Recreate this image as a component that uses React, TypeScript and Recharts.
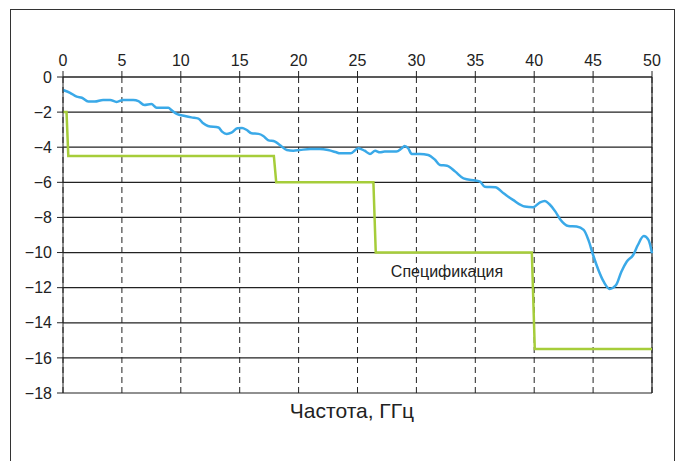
import { LineChart, Line, XAxis, YAxis, CartesianGrid, ReferenceLine, ReferenceDot } from "recharts";

// measured response, dB vs GHz
const freq = [0, 0.6, 1.16, 1.6, 2.15, 2.7, 3.4, 4.0, 4.55, 5.1, 5.97, 6.4, 6.9, 7.5, 7.95, 8.95, 9.2, 9.65, 10.35, 10.9, 11.5, 11.9, 12.3, 13.2, 13.5, 13.9, 14.3, 14.8, 15.2, 15.6, 16.0, 16.6, 17.0, 17.4, 18.0, 18.4, 19.0, 19.55, 20.1, 21.0, 21.8, 22.5, 23.2, 23.5, 24.4, 25.07, 25.6, 26.06, 26.5, 26.9, 27.3, 28.3, 28.75, 29.0, 29.3, 29.6, 30.3, 31.0, 31.6, 32.0, 32.6, 33.3, 34.0, 35.0, 35.4, 35.8, 36.7, 37.4, 38.2, 39.2, 39.9, 40.5, 40.9, 41.3, 41.8, 42.2, 42.9, 43.6, 44.2, 44.6, 45.0, 45.45, 45.9, 46.4, 46.95, 47.4, 47.85, 48.4, 48.8, 49.3, 49.7, 50];
const measured = [-0.74, -0.9, -1.12, -1.18, -1.4, -1.4, -1.31, -1.31, -1.42, -1.31, -1.31, -1.37, -1.6, -1.54, -1.75, -1.75, -1.88, -2.1, -2.22, -2.3, -2.37, -2.64, -2.79, -2.88, -3.11, -3.24, -3.17, -2.92, -2.9, -3.02, -3.21, -3.24, -3.36, -3.59, -3.68, -3.87, -4.16, -4.2, -4.16, -4.1, -4.1, -4.16, -4.29, -4.35, -4.35, -4.06, -4.2, -4.38, -4.2, -4.29, -4.25, -4.25, -4.06, -3.93, -4.06, -4.38, -4.38, -4.44, -4.73, -5.01, -5.05, -5.39, -5.77, -5.9, -5.96, -6.25, -6.28, -6.62, -7.0, -7.38, -7.42, -7.14, -7.06, -7.25, -7.67, -8.1, -8.49, -8.52, -8.71, -9.28, -10.14, -10.99, -11.66, -12.07, -11.85, -11.09, -10.52, -10.14, -9.57, -9.06, -9.28, -10.04];

// specification mask
const specFreq = [0, 0.3, 0.45, 17.9, 18.1, 26.35, 26.55, 39.8, 40.05, 50];
const specLevel = [-2, -2, -4.5, -4.5, -6, -6, -10, -10, -15.5, -15.5];

const xTicks = [0, 5, 10, 15, 20, 25, 30, 35, 40, 45, 50];
const yTicks = [0, -2, -4, -6, -8, -10, -12, -14, -16, -18];

const curve = freq.map((x, i) => ({ x, y: measured[i] }));
const spec = specFreq.map((x, i) => ({ x, y: specLevel[i] }));

const font = "Liberation Sans, Arial, sans-serif";

export default function App() {
  return (
    <div style={{ position: "absolute", left: 0, top: 0, width: 678, height: 461, background: "#fff", overflow: "hidden" }}>
      <div style={{ position: "absolute", left: 10, top: 9, width: 663, height: 470, border: "1px solid #333" }} />
      <div style={{ position: "absolute", left: 0, top: 0 }}>
        <LineChart width={678} height={461} margin={{ top: 47, right: 26, left: 23, bottom: 68 }}>
          <CartesianGrid horizontal={true} vertical={false} stroke="#222" strokeWidth={1.2} />
          <CartesianGrid horizontal={false} vertical={true} stroke="#222" strokeDasharray="6 4" />
          <XAxis
            type="number"
            dataKey="x"
            orientation="top"
            domain={[0, 50]}
            ticks={xTicks}
            height={30}
            tickSize={6}
            tickMargin={5}
            stroke="#222"
            tick={{ fill: "#222", fontSize: 16, fontFamily: font }}
            allowDuplicatedCategory={false}
          />
          <YAxis
            type="number"
            dataKey="y"
            domain={[-18, 0]}
            ticks={yTicks}
            width={40}
            tickSize={6}
            tickMargin={5}
            stroke="#222"
            tickFormatter={(v: number) => (v < 0 ? "\u2212" + Math.abs(v) : String(v))}
            tick={{ fill: "#222", fontSize: 16, fontFamily: font }}
          />
          <ReferenceLine x={50} stroke="#222" strokeWidth={1.2} />
          <Line data={spec} dataKey="y" type="linear" stroke="#a6cd3a" strokeWidth={2.5} dot={false} isAnimationActive={false} />
          <Line data={curve} dataKey="y" type="monotone" stroke="#3aa9e8" strokeWidth={2.5} dot={false} isAnimationActive={false} />
          <ReferenceDot
            x={32.6}
            y={-11.05}
            r={0}
            fill="none"
            stroke="none"
            label={{ value: "Спецификация", position: "center", fill: "#222", fontSize: 16, fontFamily: font }}
          />
        </LineChart>
      </div>
      <div style={{ position: "absolute", left: 0, width: 704, top: 399, textAlign: "center", fontFamily: font, fontSize: 21, color: "#222" }}>
        Частота, ГГц
      </div>
    </div>
  );
}
